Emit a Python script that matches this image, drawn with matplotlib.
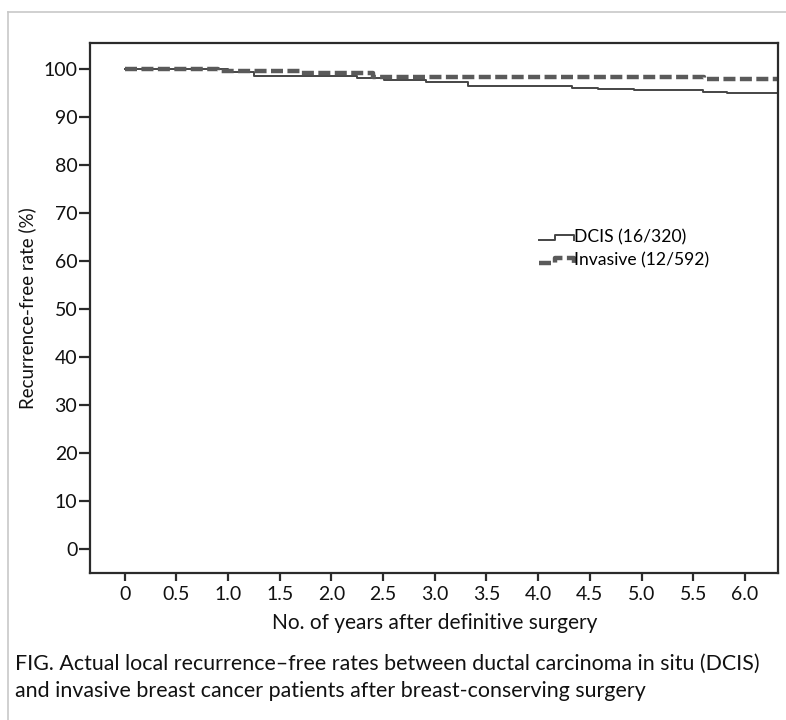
import matplotlib
matplotlib.use("Agg")
import matplotlib.pyplot as plt
from matplotlib.lines import Line2D
from matplotlib.legend_handler import HandlerBase

plt.rcParams['font.family'] = ['Lato', 'DejaVu Sans']

# Data
dcis_times = [0, 1.0, 1.25, 2.25, 2.51, 2.92, 3.32, 4.33, 4.58, 4.93, 5.59, 5.83]
dcis_rates = [100, 99.4, 98.7, 98.3, 97.8, 97.4, 96.6, 96.2, 95.9, 95.6, 95.3, 95.0]
inv_times = [0, 0.9, 1.7, 2.4, 5.6]
inv_rates = [100, 99.7, 99.3, 98.5, 98.0]
follow_up_end = 6.32
x_ticks = [0, 0.5, 1.0, 1.5, 2.0, 2.5, 3.0, 3.5, 4.0, 4.5, 5.0, 5.5, 6.0]
x_tick_labels = ['0', '0.5', '1.0', '1.5', '2.0', '2.5', '3.0', '3.5', '4.0', '4.5', '5.0', '5.5', '6.0']
y_ticks = [0, 10, 20, 30, 40, 50, 60, 70, 80, 90, 100]
series_labels = ['DCIS (16/320)', 'Invasive (12/592)']
x_label = 'No. of years after definitive surgery'
y_label = 'Recurrence-free rate (%)'
caption = ('FIG. Actual local recurrence\u2013free rates between ductal carcinoma in situ (DCIS)\n'
           'and invasive breast cancer patients after breast-conserving surgery')


class StepHandler(HandlerBase):
    def create_artists(self, legend, orig_handle, xdescent, ydescent,
                       width, height, fontsize, trans):
        x0 = -xdescent
        x1 = x0 + width
        ylo = -ydescent + height * 0.25
        yhi = -ydescent + height * 0.6
        xm = x0 + 0.45 * width
        line = Line2D([x0, xm, xm, x1, x1], [ylo, ylo, yhi, yhi, ylo])
        line.update_from(orig_handle)
        line.set_transform(trans)
        return [line]


fig = plt.figure(figsize=(7.86, 7.2), dpi=100)
fig.patch.set_facecolor('white')

# light frame around the figure (top and left edges visible)
fig.add_artist(Line2D([0.0102, 0.0102], [0, 0.983], color='#c8c8c8', lw=1.2, transform=fig.transFigure))
fig.add_artist(Line2D([0.0102, 1.0], [0.983, 0.983], color='#c8c8c8', lw=1.2, transform=fig.transFigure))

ax = fig.add_axes([0.1151, 0.2046, 0.8747, 0.7357])

dx = dcis_times + [follow_up_end]
dy = dcis_rates + [dcis_rates[-1]]
ix = inv_times + [follow_up_end]
iy = inv_rates + [inv_rates[-1]]

l1, = ax.step(dx, dy, where='post', color='#454545', lw=1.4, label=series_labels[0])
l2, = ax.step(ix, iy, where='post', color='#5a5a5a', lw=3.2, label=series_labels[1],
              dashes=(2.7, 1.0), solid_capstyle='butt', dash_capstyle='butt')

ax.set_xlim(-0.33, 6.32)
ax.set_ylim(-4.9, 105.5)
ax.set_xticks(x_ticks)
ax.set_xticklabels(x_tick_labels)
ax.set_yticks(y_ticks)

for s in ax.spines.values():
    s.set_color('#2b2b2b')
    s.set_linewidth(1.6)

ax.tick_params(axis='x', direction='out', length=6, width=1.6, color='#2b2b2b',
               labelsize=14, pad=3.5, labelcolor='#111111')
ax.tick_params(axis='y', direction='out', length=8, width=1.6, color='#2b2b2b',
               labelsize=14, pad=1.5, labelcolor='#111111')

ax.set_xlabel(x_label, fontsize=15, color='#111111', labelpad=7)
ax.set_ylabel(y_label, fontsize=13.5, color='#111111', labelpad=5)

leg = ax.legend(handles=[l1, l2], loc='upper left', bbox_to_anchor=(0.639, 0.664),
                frameon=False, fontsize=12.6, handlelength=2.05, handletextpad=0.0,
                borderpad=0, labelspacing=0.38,
                handler_map={Line2D: StepHandler()})

fig.text(0.019, 0.059, caption, fontsize=15.4, color='#111111', ha='left', va='center',
         linespacing=1.42)

fig.savefig('out.png', dpi=100, facecolor='white')
